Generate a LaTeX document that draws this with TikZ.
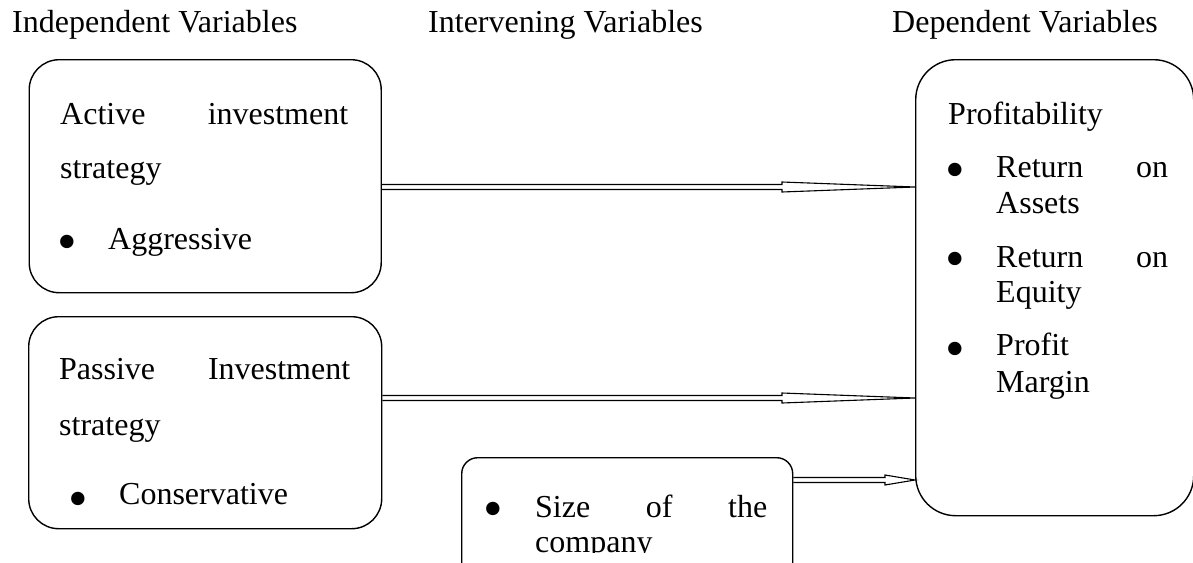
\documentclass[tikz,border=0pt]{standalone}
\usepackage{fontspec}
\setmainfont{Liberation Serif}
\usetikzlibrary{calc}
\newcommand\dblarr[3]{%
  \draw[conn] let \p1=(#1), \p2=(#2) in
    (\x1,\y1+2.5pt) -- (\x2-#3,\y1+2.5pt) -- (\x2-#3,\y1+5pt) -- (\x2,\y1)
    -- (\x2-#3,\y1-5pt) -- (\x2-#3,\y1-2.5pt) -- (\x1,\y1-2.5pt);}
\begin{document}
\begin{tikzpicture}[x=1pt,y=-1pt,
  box/.style={draw, line width=1.4pt, rounded corners=#1, inner sep=0pt, anchor=north west},
  conn/.style={draw, line width=1.1pt, line join=miter},
  txt/.style={anchor=base west, inner sep=0pt, font=\fontsize{32}{36}\selectfont},
  bul/.style={anchor=north, inner sep=0pt, font=\fontsize{56}{56}\selectfont}]
\useasboundingbox (0,0) rectangle (1193,562);
\clip (0,0) rectangle (1193,562);
% headings
\node[txt] (h1) at (12,32) {Independent Variables};
\node[txt] (h2) at (428,32) {Intervening Variables};
\node[txt] (h3) at (892,32) {Dependent Variables};
% boxes
\node[box=30pt, minimum width=352pt, minimum height=233pt] (act) at (28.5,59) {};
\node[box=30pt, minimum width=353pt, minimum height=212pt] (pas) at (28,316) {};
\node[box=16pt, minimum width=331pt, minimum height=140pt] (siz) at (461,457) {};
\node[box=40pt, minimum width=278pt, minimum height=456pt] (prof) at (915,59) {};
% box 1 text
\node[txt] (t11) at (60,124) {\makebox[288pt]{Active\hfill investment}};
\node[txt] (t12) at (60,178) {strategy};
\node[bul] (b11) at (67,235) {•};
\node[txt] (t13) at (108,249) {Aggressive};
% box 2 text
\node[txt] (t21) at (59,379) {\makebox[291pt]{Passive\hfill Investment}};
\node[txt] (t22) at (59,435) {strategy};
\node[bul] (b21) at (78,492) {•};
\node[txt] (t23) at (119,504) {Conservative};
% box 3 text
\node[bul] (b31) at (493,502) {•};
\node[txt] (t31) at (535,517) {\makebox[232pt]{Size\hfill of\hfill the}};
\begin{scope}
\clip (461,530) rectangle (792,552);
\node[txt] (t32) at (535,552) {company};
\end{scope}
% box 4 text
\node[txt] (t41) at (948,124) {Profitability};
\node[bul] (b41) at (955,163) {•};
\node[txt] (t42) at (996,177) {\makebox[172pt]{Return\hfill on}};
\node[txt] (t43) at (996,213) {Assets};
\node[bul] (b42) at (955,252) {•};
\node[txt] (t44) at (996,267) {\makebox[172pt]{Return\hfill on}};
\node[txt] (t45) at (996,302) {Equity};
\node[bul] (b43) at (955,342) {•};
\node[txt] (t46) at (996,355) {Profit};
\node[txt] (t47) at (996,392) {Margin};
% connectors
\coordinate (s1) at (act.east |- 0,187);
\coordinate (e1) at (prof.west |- s1);
\coordinate (s2) at (pas.east |- 0,398);
\coordinate (e2) at (prof.west |- s2);
\coordinate (s3) at (siz.east |- 0,480);
\coordinate (e3) at (prof.west |- s3);
\dblarr{s1}{e1}{133pt}
\dblarr{s2}{e2}{133pt}
\dblarr{s3}{e3}{30pt}
\end{tikzpicture}
\end{document}
